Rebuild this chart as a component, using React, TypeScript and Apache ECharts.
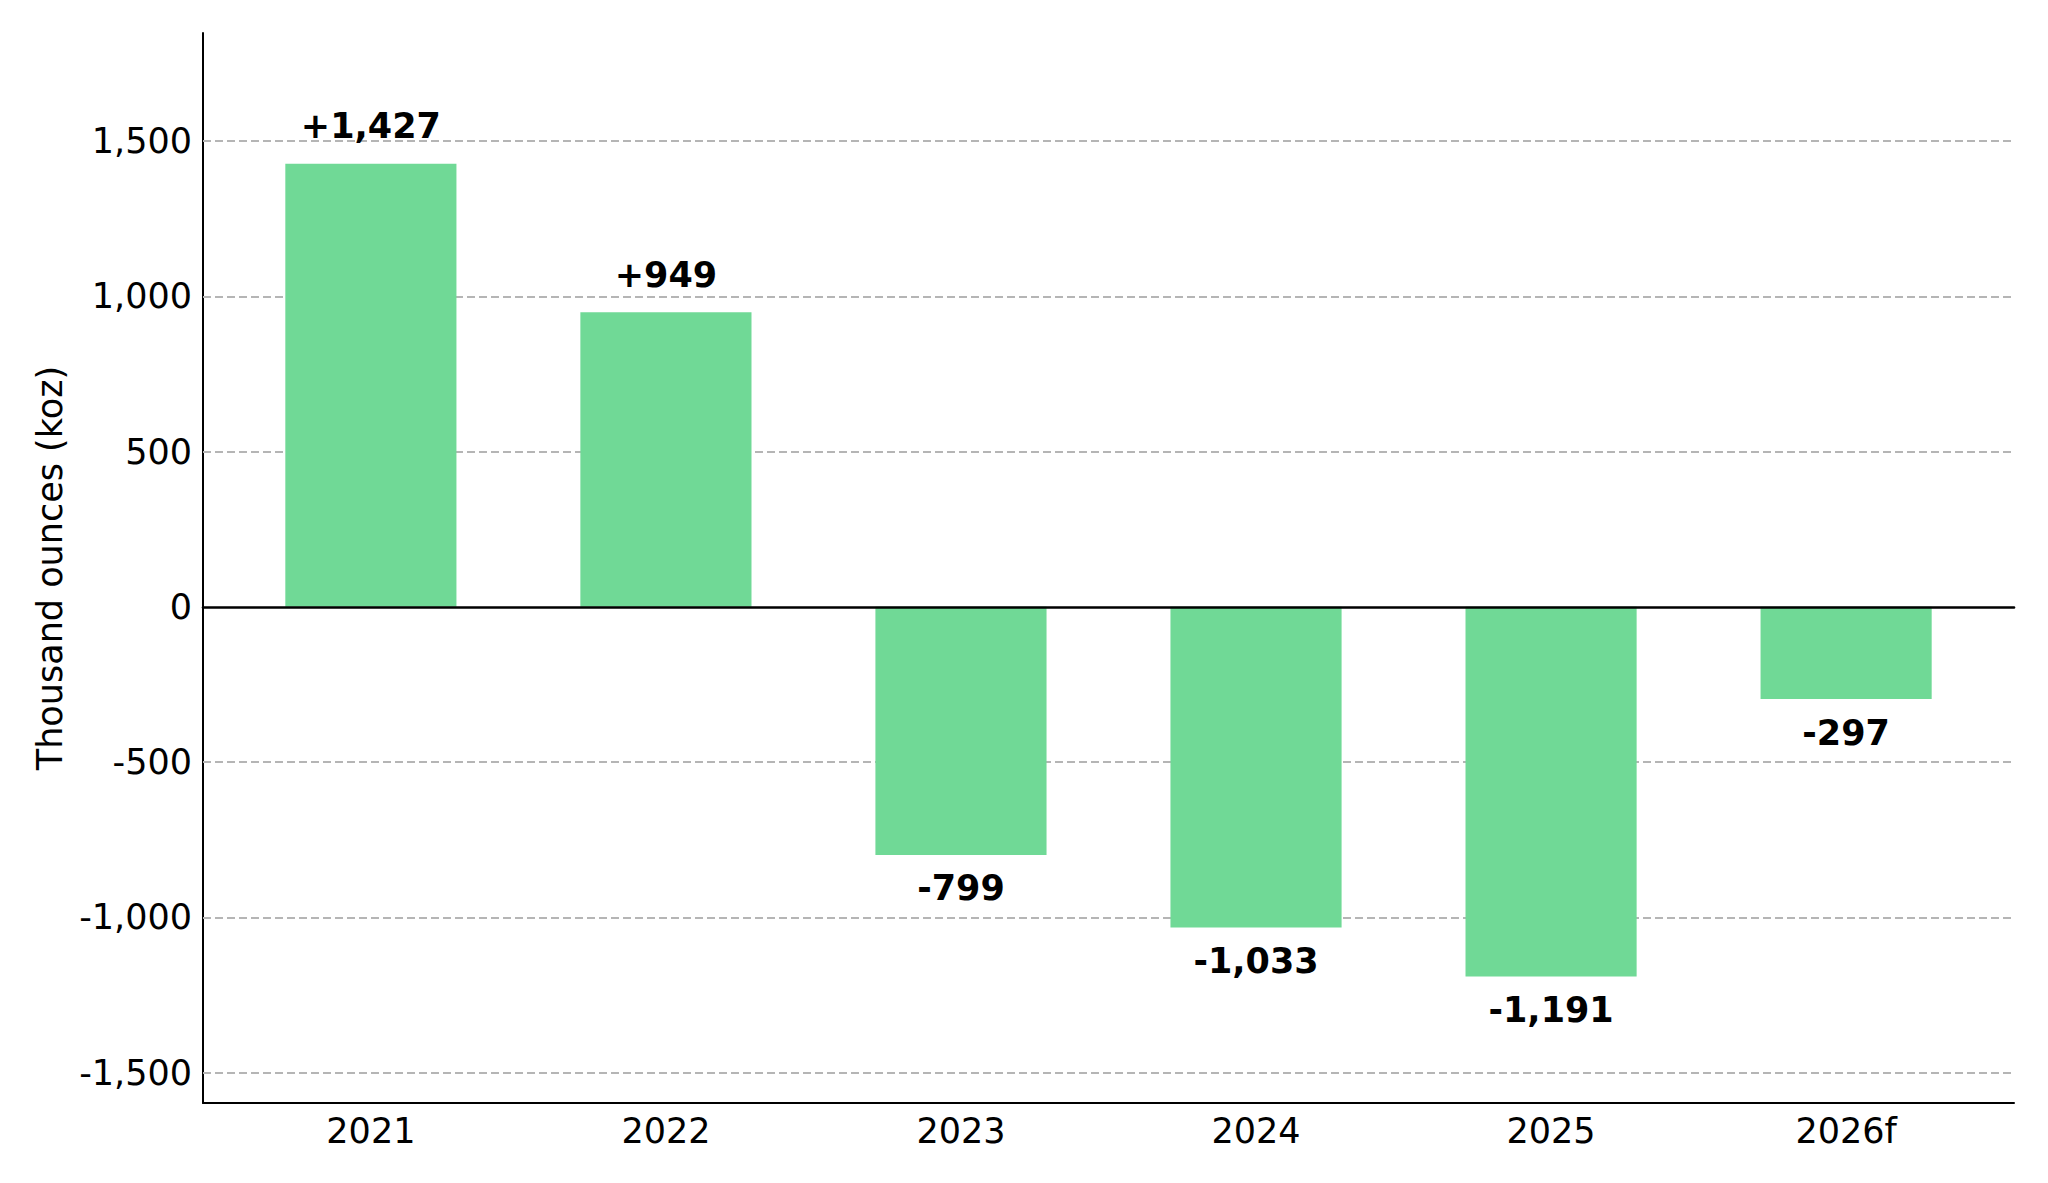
import React, { useEffect, useRef } from "react";
import * as echarts from "echarts";

const categories = ["2021", "2022", "2023", "2024", "2025", "2026f"];
const values = [1427, 949, -799, -1033, -1191, -297];
const yTicks = [-1500, -1000, -500, 0, 500, 1000, 1500];
const gridTicks = [-1500, -1000, -500, 500, 1000, 1500];
const yAxisName = "Thousand ounces (koz)";

const FONT = "DejaVu Sans";
const FS = 35;
const fmt = (v: number) => Math.round(v).toLocaleString("en-US");
const signed = (v: number) => (v > 0 ? "+" : "") + fmt(v);

export default function App() {
  const ref = useRef<HTMLDivElement>(null);
  useEffect(() => {
    if (!ref.current) return;
    const chart = echarts.init(ref.current, undefined, { renderer: "svg" });
    const idx = categories.map((_, i) => i);
    chart.setOption({
      animation: false,
      backgroundColor: "#ffffff",
      textStyle: { fontFamily: FONT },
      grid: { left: 203, right: 34, top: 33, bottom: 80, containLabel: false },
      xAxis: [
        {
          type: "value",
          min: -0.569,
          max: 5.569,
          axisLine: { show: true, onZero: false, lineStyle: { color: "#000", width: 2 } },
          axisTick: { show: false },
          splitLine: { show: false },
          axisLabel: {
            customValues: idx,
            formatter: (v: number) => categories[Math.round(v)] ?? "",
            fontFamily: FONT,
            fontSize: FS,
            color: "#000",
            margin: 10,
          },
        },
        {
          type: "value",
          min: -0.569,
          max: 5.569,
          position: "bottom",
          axisLine: { show: true, onZero: true, lineStyle: { color: "#000", width: 2.6 } },
          axisTick: { show: false },
          axisLabel: { show: false },
          splitLine: { show: false },
          z: 10,
        },
      ],
      yAxis: {
        type: "value",
        min: -1598,
        max: 1848,
        name: yAxisName,
        nameLocation: "middle",
        nameGap: 136,
        nameTextStyle: { fontFamily: FONT, fontSize: FS, color: "#000" },
        axisLine: { show: true, onZero: false, lineStyle: { color: "#000", width: 2 } },
        axisTick: { show: false },
        splitLine: { show: false },
        axisLabel: {
          customValues: yTicks,
          formatter: (v: number) => fmt(v),
          fontFamily: FONT,
          fontSize: FS,
          color: "#000",
          margin: 11,
        },
      },
      series: [
        {
          type: "bar",
          xAxisIndex: 0,
          barWidth: "58%",
          itemStyle: { color: "#70D996" },
          data: values.map((v, i) => ({
            value: [i, v],
            label: {
              show: true,
              position: v >= 0 ? "top" : "bottom",
              distance: v >= 0 ? 20 : 16,
              formatter: signed(v),
              fontFamily: FONT,
              fontWeight: "bold",
              fontSize: FS,
              color: "#000",
            },
          })),
          markLine: {
            silent: true,
            symbol: "none",
            z: 1,
            label: { show: false },
            lineStyle: { color: "#b5b5b5", type: [8, 4], width: 2 },
            data: gridTicks.map((t) => ({ yAxis: t })),
          },
          z: 2,
        },
      ],
    });
    return () => chart.dispose();
  }, []);
  return (
    <div
      ref={ref}
      style={{ position: "absolute", left: 0, top: 0, width: 2048, height: 1183 }}
    />
  );
}
